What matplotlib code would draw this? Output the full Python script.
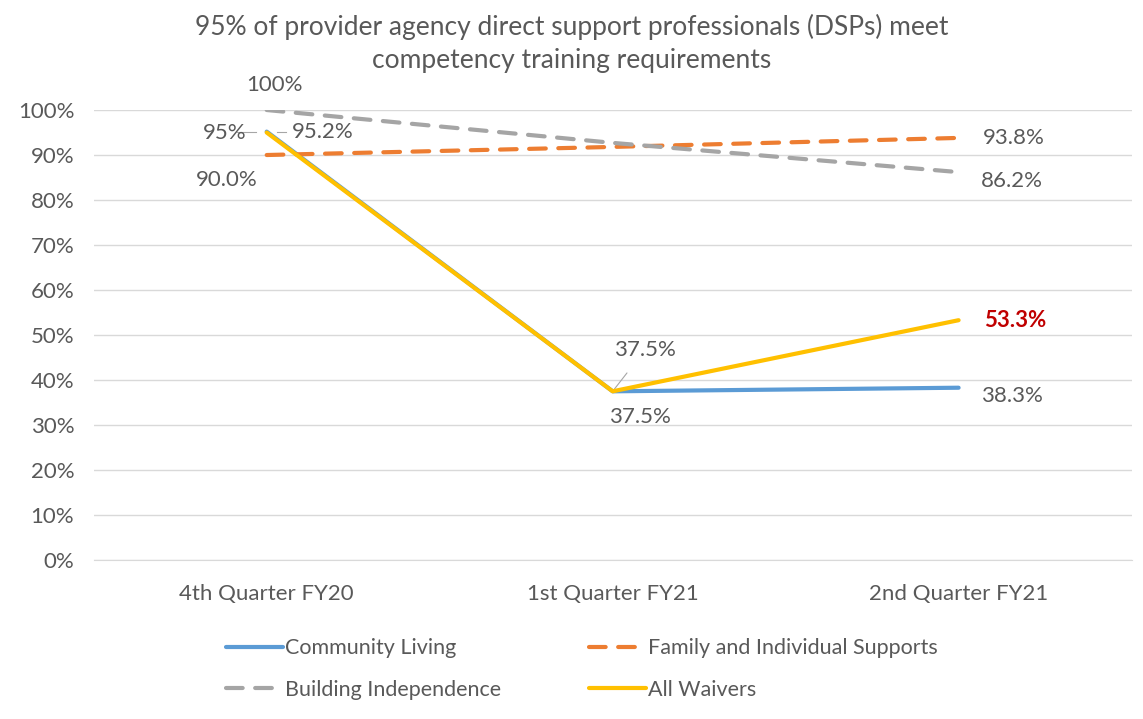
import matplotlib as mpl
mpl.use('Agg')
import matplotlib.pyplot as plt
from matplotlib.ticker import PercentFormatter

# data
quarters = ['4th Quarter FY20', '1st Quarter FY21', '2nd Quarter FY21']
community_living = [95.2, 37.5, 38.3]
family_supports = [90.0, 91.8, 93.8]
building_indep = [100.0, 92.7, 86.2]
all_waivers = [95.0, 37.5, 53.3]

txt = '#595959'
plt.rcParams['font.family'] = ['Lato', 'DejaVu Sans']

fig = plt.figure(figsize=(11.43, 7.19), dpi=100)
ax = fig.add_axes([0.082, 0.221, 0.908, 0.626])
x = range(len(quarters))

l1, = ax.plot(x, community_living, color='#5B9BD5', lw=3, solid_capstyle='round',
              label='Community Living', zorder=3)
l2, = ax.plot(x, family_supports, color='#ED7D31', lw=3, dashes=(4, 3),
              dash_capstyle='round', label='Family and Individual Supports', zorder=3)
l3, = ax.plot(x, building_indep, color='#A5A5A5', lw=3, dashes=(4, 3),
              dash_capstyle='round', label='Building Independence', zorder=3)
l4, = ax.plot(x, all_waivers, color='#FFC000', lw=3, solid_capstyle='round',
              label='All Waivers', zorder=4)

# data labels (offsets in pixels)
fs = 16
lab = dict(textcoords='offset pixels', fontsize=fs, color=txt, va='center')
ax.annotate('100%', (0, building_indep[0]), xytext=(8, 25), ha='center', **lab)
ax.annotate('95%', (0, all_waivers[0]), xytext=(-42, 0), ha='center', **lab)
ax.annotate('95.2%', (0, community_living[0]), xytext=(56, 0), ha='center', **lab)
ax.plot([-0.085, -0.03], [95.2, 95.2], color='#A6A6A6', lw=0.8, zorder=2)
ax.plot([0.03, 0.055], [95.2, 95.2], color='#A6A6A6', lw=0.8, zorder=2)
ax.annotate('90.0%', (0, family_supports[0]), xytext=(-40, -25), ha='center', **lab)
ax.annotate('37.5%', (1, all_waivers[1]), xytext=(32, 41), ha='center',
            arrowprops=dict(arrowstyle='-', color='#A6A6A6', lw=0.8,
                            shrinkA=9, shrinkB=0), **lab)
ax.annotate('37.5%', (1, community_living[1]), xytext=(27, -26), ha='center', **lab)
ax.annotate('93.8%', (2, family_supports[2]), xytext=(24, 0), ha='left', **lab)
ax.annotate('86.2%', (2, building_indep[2]), xytext=(22, -9), ha='left', **lab)
ax.annotate('53.3%', (2, all_waivers[2]), xytext=(25, 0), ha='left',
            fontweight='bold', textcoords='offset pixels', fontsize=fs,
            color='#C00000', va='center')
ax.annotate('38.3%', (2, community_living[2]), xytext=(22, -8), ha='left', **lab)

ax.set_xlim(-0.5, 2.5)
ax.set_ylim(0, 100)
ax.set_yticks(range(0, 101, 10))
ax.yaxis.set_major_formatter(PercentFormatter(decimals=0))
ax.set_xticks(list(x))
ax.set_xticklabels(quarters)
ax.tick_params(length=0, labelsize=16, labelcolor=txt)
ax.tick_params(axis='x', pad=17)
ax.tick_params(axis='y', pad=14)
ax.grid(axis='y', color='#D9D9D9', lw=1)
ax.set_axisbelow(True)
for s in ax.spines.values():
    s.set_visible(False)
ax.spines['bottom'].set_visible(True)
ax.spines['bottom'].set_color('#D9D9D9')

fig.suptitle('95% of provider agency direct support professionals (DSPs) meet\n'
             'competency training requirements', y=0.98, fontsize=19,
             color=txt, linespacing=1.4)

# row order: Community / Family, Building / All Waivers
fig.legend([l1, l3, l2, l4], [l1.get_label(), l3.get_label(), l2.get_label(),
                              l4.get_label()],
           loc='lower left', bbox_to_anchor=(0.181, 0.0), ncol=2,
           frameon=False, fontsize=15.5, labelcolor=txt, handlelength=2.65,
           handletextpad=0.1, columnspacing=4.05, labelspacing=1.0)

fig.savefig('out.png', dpi=100)
